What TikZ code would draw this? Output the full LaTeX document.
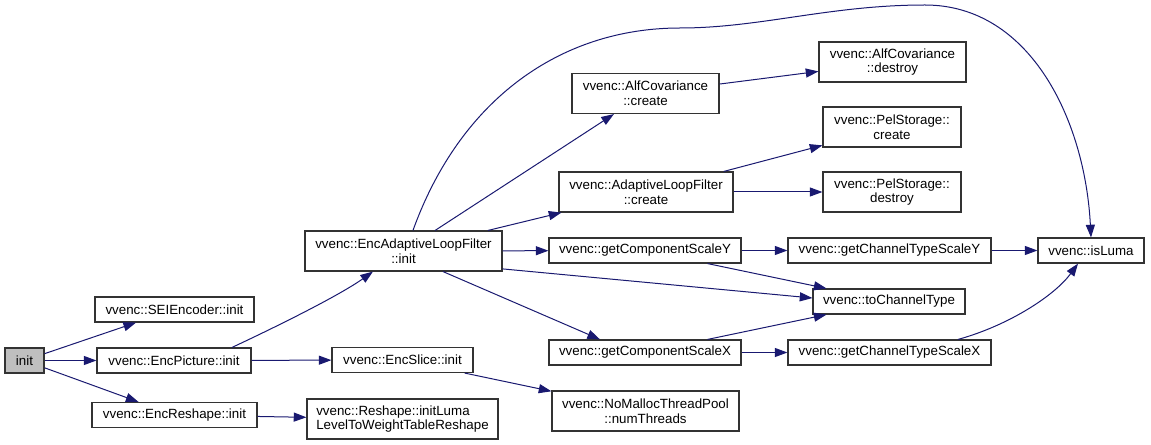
\documentclass[tikz,border=0pt]{standalone}
\usepackage{fontspec}
\setmainfont{Liberation Sans}
\usetikzlibrary{arrows.meta}
\definecolor{callblue}{RGB}{25,25,112}
\definecolor{rootgray}{RGB}{191,191,191}

\begin{document}
\begin{tikzpicture}[
    x=0.75pt, y=-0.75pt,
    font=\fontsize{10}{11}\selectfont,
    fn/.style={draw=black!80, line width=0.85pt, fill=white, inner sep=0pt, minimum height=18.75pt, align=center},
    fntwo/.style={fn, minimum height=30pt},
    root/.style={fn, fill=rootgray},
    call/.style={-{Triangle[length=9.5pt,width=6.8pt]}, callblue, line width=0.75pt},
]
\useasboundingbox (0,0) rectangle (1151,445);

% callers on the left
\node[root, minimum width=29.25pt]  (init)     at (24.5,360.5)  {init};
\node[fn, minimum width=119.25pt]   (sei)      at (174.5,309.5) {vvenc::SEIEncoder::init};
\node[fn, minimum width=115.5pt]    (encpic)   at (174,360.5)   {vvenc::EncPicture::init};
\node[fn, minimum width=123.75pt]   (encresh)  at (174.5,415)   {vvenc::EncReshape::init};

\node[fntwo, minimum width=147.75pt] (encalf)  at (403.5,251)   {vvenc::EncAdaptiveLoopFilter\\::init};
\node[fn, minimum width=105.75pt]    (encslice) at (402.5,360)  {vvenc::EncSlice::init};
\node[fntwo, minimum width=143.25pt, align=left] (reshape) at (402.5,419) {vvenc::Reshape::initLuma\\LevelToWeightTableReshape};

% middle column
\node[fntwo, minimum width=110.25pt] (alfcovc) at (645.5,93.5)  {vvenc::AlfCovariance\\::create};
\node[fntwo, minimum width=130.5pt]  (alfc)    at (646,192)     {vvenc::AdaptiveLoopFilter\\::create};
\node[fn, minimum width=144pt]       (compY)   at (645,250.5)   {vvenc::getComponentScaleY};
\node[fn, minimum width=144pt]       (compX)   at (645,352.5)   {vvenc::getComponentScaleX};
\node[fntwo, minimum width=140.25pt] (numthr)  at (645.5,411)   {vvenc::NoMallocThreadPool\\::numThreads};

% right columns
\node[fntwo, minimum width=110.25pt] (alfcovd) at (892.5,62)    {vvenc::AlfCovariance\\::destroy};
\node[fntwo, minimum width=103.5pt]  (pelc)    at (892,127)     {vvenc::PelStorage::\\create};
\node[fntwo, minimum width=103.5pt]  (peld)    at (892,192)     {vvenc::PelStorage::\\destroy};
\node[fn, minimum width=152.25pt]    (chY)     at (889.5,250.5) {vvenc::getChannelTypeScaleY};
\node[fn, minimum width=114pt]       (toCh)    at (889,301.5)   {vvenc::toChannelType};
\node[fn, minimum width=152.25pt]    (chX)     at (889.5,352.5) {vvenc::getChannelTypeScaleX};
\node[fn, minimum width=79.5pt]      (isLuma)  at (1091,250.5)  {vvenc::isLuma};

\draw[call] (init) -- (sei);
\draw[call] (init) -- (encpic);
\draw[call] (init) -- (encresh);
\draw[call] ([xshift=43.5pt]encpic.north) .. controls (280,325) and (340,295) .. ([xshift=-22.9pt]encalf.south);
\draw[call] (encpic) -- (encslice);
\draw[call] (encresh) -- (reshape);
\draw[call] (encslice) -- (numthr);

\draw[call] (encalf) -- (alfcovc);
\draw[call] (encalf) -- (alfc);
\draw[call] (encalf) -- (compY);
\draw[call] ([yshift=2pt]encalf.south east) -- ([yshift=2.6pt]toCh.west);
\draw[call] ([xshift=29.6pt]encalf.south) -- ([xshift=-33.75pt]compX.north);
\draw[call] ([xshift=7.1pt]encalf.north) .. controls (460,100) and (560,28) .. (680,28)
    .. controls (760,28) and (830,5) .. (925,5)
    .. controls (1030,5) and (1085,120) .. (isLuma.north);

\draw[call] (alfcovc) -- (alfcovd);
\draw[call] (alfc) -- (pelc);
\draw[call] (alfc) -- (peld);
\draw[call] (compY) -- (chY);
\draw[call] (compY) -- (toCh);
\draw[call] (compX) -- (chX);
\draw[call] (compX) -- (toCh);
\draw[call] (chY) -- (isLuma);
\draw[call] ([xshift=51.4pt]chX.north) .. controls (1010,325) and (1055,295) .. ([xshift=-9.75pt]isLuma.south);
\end{tikzpicture}
\end{document}
